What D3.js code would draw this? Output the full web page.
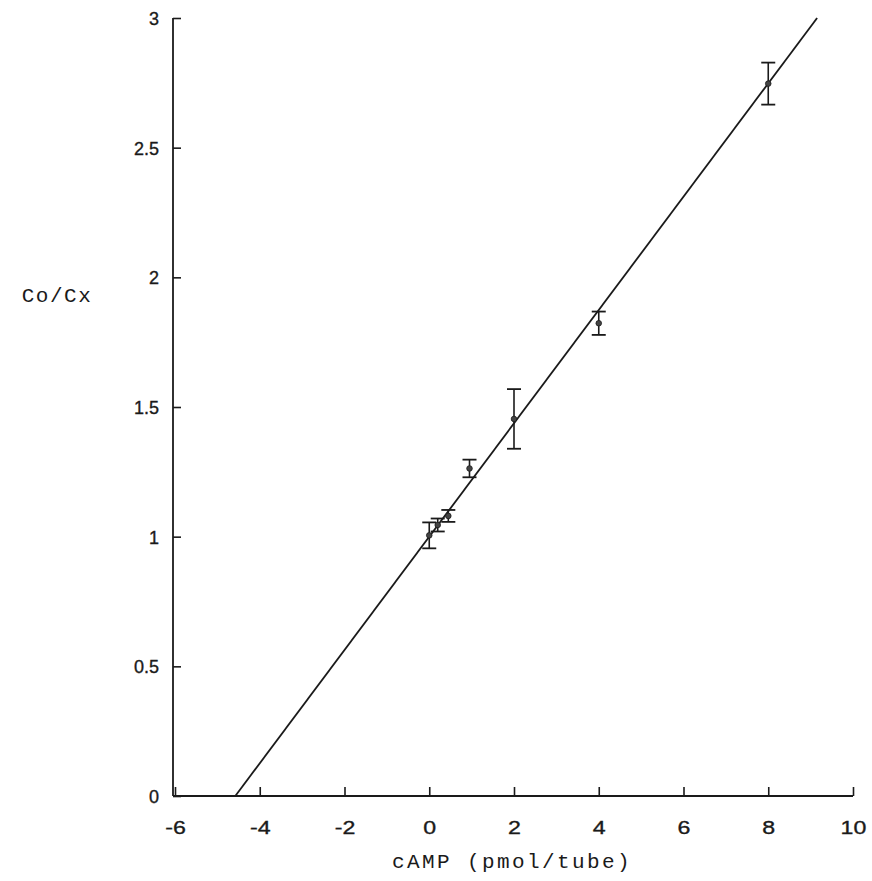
<!DOCTYPE html>
<html>
<head>
<meta charset="utf-8">
<script src="https://cdn.jsdelivr.net/npm/d3@7"></script>
<style>
  html, body { margin: 0; padding: 0; background: #fff; }
  svg { display: block; }
</style>
</head>
<body>
<svg id="chart" width="872" height="881"></svg>
<script>
// ---- data ----
const camp = [0, 0.2, 0.45, 0.95, 2, 4, 8];
const ratio = [1.005, 1.045, 1.08, 1.263, 1.454, 1.823, 2.747];
const errVal = [0.05, 0.025, 0.023, 0.034, 0.115, 0.045, 0.081];
const fitSlope = 0.2185;
const fitIntercept = 1.0;
const xTicks = [-6, -4, -2, 0, 2, 4, 6, 8, 10];
const yTicks = [0, 0.5, 1, 1.5, 2, 2.5, 3];
const xTitle = "cAMP (pmol/tube)";
const yTitle = "Co/Cx";

// ---- scales ----
const svg = d3.select("#chart");
const x = d3.scaleLinear().domain([-6, 10]).range([175, 853]);
const y = d3.scaleLinear().domain([0, 3]).range([796, 18]);
const ink = "#1a1a1a";

// x axis (ticks pointing up)
const xAxis = svg.append("g")
  .attr("transform", `translate(0,${y(0)})`)
  .call(d3.axisBottom(x).tickValues(xTicks).tickSize(-9).tickPadding(25)
    .tickFormat(d => d < 0 ? "-" + Math.abs(d) : d));
// y axis (ticks pointing right)
const yAxis = svg.append("g")
  .attr("transform", `translate(${x(-6) - 2},0)`)
  .call(d3.axisLeft(y).tickValues(yTicks).tickSize(-8).tickPadding(14)
    .tickFormat(d => d));

[xAxis, yAxis].forEach(g => {
  g.select(".domain").remove();
  g.selectAll(".tick line").attr("stroke", ink).attr("stroke-width", 1.6);
  g.selectAll(".tick text")
    .attr("fill", ink)
    .attr("stroke", ink)
    .attr("stroke-width", 0.35)
    .style("font-family", "'Liberation Sans', Arial, sans-serif")
    .style("font-size", "18px");
});
xAxis.selectAll(".tick text")
  .attr("dy", "0.71em")
  .style("font-size", "19px")
  .attr("transform", "scale(1.22,1)");
yAxis.selectAll(".tick text").attr("dy", "0.36em");

// axis lines
svg.append("line")
  .attr("x1", x(-6) - 2).attr("x2", x(10))
  .attr("y1", y(0)).attr("y2", y(0))
  .attr("stroke", ink).attr("stroke-width", 1.8);
svg.append("line")
  .attr("x1", x(-6) - 2).attr("x2", x(-6) - 2)
  .attr("y1", y(3)).attr("y2", y(0))
  .attr("stroke", ink).attr("stroke-width", 1.8);

// fit line from x-intercept to y = 3
const xStart = -fitIntercept / fitSlope;
const xEnd = (3 - fitIntercept) / fitSlope;
svg.append("path")
  .datum([xStart, xEnd])
  .attr("d", d3.line().x(d => x(d)).y(d => y(fitIntercept + fitSlope * d)))
  .attr("fill", "none").attr("stroke", ink).attr("stroke-width", 1.8);

// error bars
const pts = camp.map((c, i) => ({ c, r: ratio[i], e: errVal[i] }));
const g = svg.append("g");
const capW = 7;
pts.forEach(p => {
  g.append("line")
    .attr("x1", x(p.c)).attr("x2", x(p.c))
    .attr("y1", y(p.r + p.e)).attr("y2", y(p.r - p.e))
    .attr("stroke", ink).attr("stroke-width", 1.6);
  [p.r + p.e, p.r - p.e].forEach(v => {
    g.append("line")
      .attr("x1", x(p.c) - capW).attr("x2", x(p.c) + capW)
      .attr("y1", y(v)).attr("y2", y(v))
      .attr("stroke", ink).attr("stroke-width", 1.8);
  });
  g.append("circle")
    .attr("cx", x(p.c)).attr("cy", y(p.r)).attr("r", 2.8)
    .attr("fill", "#444").attr("stroke", ink).attr("stroke-width", 0.8);
});

// titles
svg.append("text")
  .attr("x", 512).attr("y", 868)
  .attr("text-anchor", "middle")
  .attr("fill", ink)
  .style("font-family", "'Liberation Mono', 'DejaVu Sans Mono', monospace")
  .style("font-size", "21px")
  .style("letter-spacing", "2.4px")
  .text(xTitle);
svg.append("text")
  .attr("x", 57).attr("y", 302)
  .attr("text-anchor", "middle")
  .attr("fill", ink)
  .style("font-family", "'Liberation Mono', 'DejaVu Sans Mono', monospace")
  .style("font-size", "21px")
  .style("letter-spacing", "1.5px")
  .text(yTitle);
</script>
</body>
</html>
